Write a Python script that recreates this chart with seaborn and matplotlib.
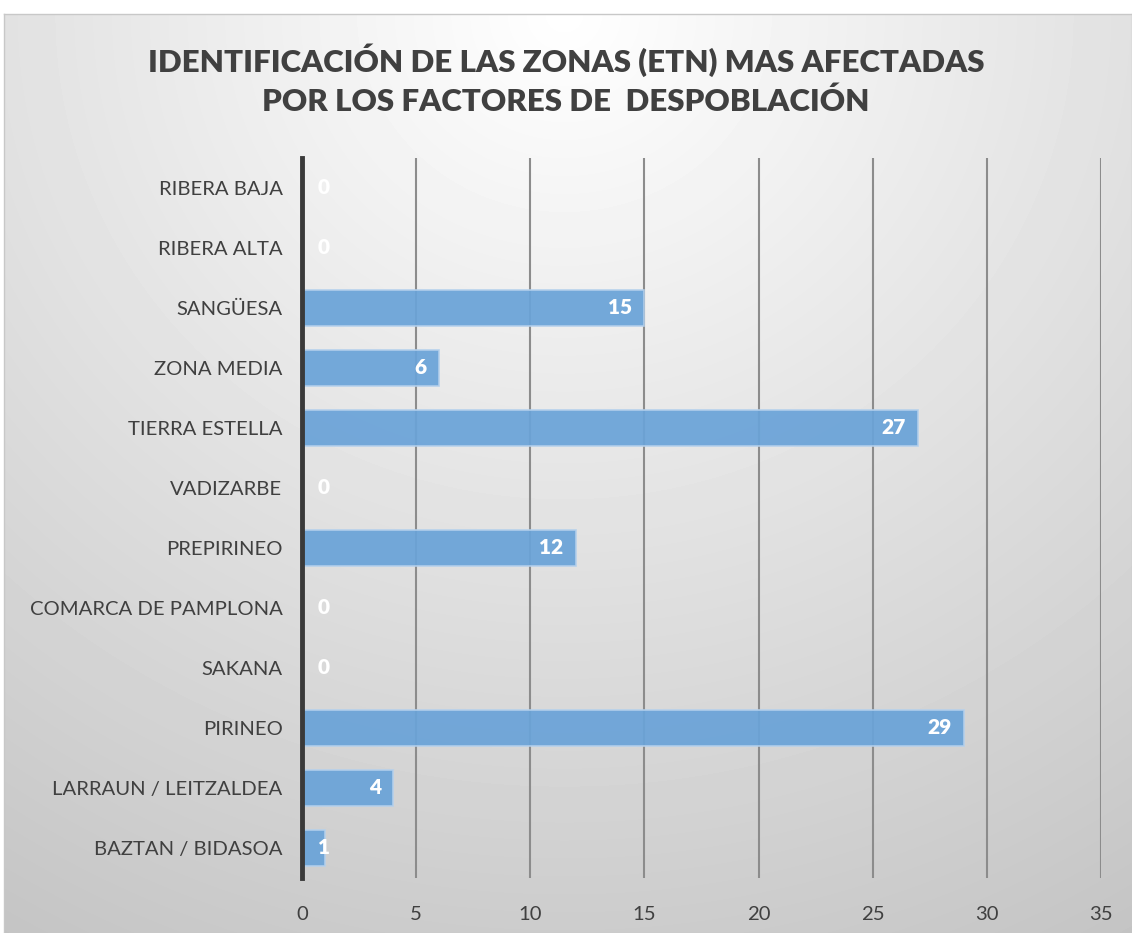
import numpy as np
import pandas as pd
import matplotlib
matplotlib.use("Agg")
import matplotlib.pyplot as plt
import seaborn as sns

zonas = ["RIBERA BAJA", "RIBERA ALTA", "SANGÜESA", "ZONA MEDIA", "TIERRA ESTELLA",
         "VADIZARBE", "PREPIRINEO", "COMARCA DE PAMPLONA", "SAKANA", "PIRINEO",
         "LARRAUN / LEITZALDEA", "BAZTAN / BIDASOA"]
valores = [0, 0, 15, 6, 27, 0, 12, 0, 0, 29, 4, 1]
xticks = [0, 5, 10, 15, 20, 25, 30, 35]
titulo = "IDENTIFICACIÓN DE LAS ZONAS (ETN) MAS AFECTADAS\nPOR LOS FACTORES DE  DESPOBLACIÓN"

sns.set_theme(style="white")
plt.rcParams["font.family"] = ["Lato", "DejaVu Sans"]

W, H = 1132, 933
fig = plt.figure(figsize=(W / 100, H / 100), dpi=100)
fig.patch.set_facecolor("white")

# fondo con degradado radial
bg = fig.add_axes([4 / W, 0, 1 - 4 / W, 1 - 14 / H], zorder=-5)
yy, xx = np.mgrid[0:919, 0:1128]
d = np.sqrt((xx - 560) ** 2 + (yy * 1.05) ** 2) / 1060
grad = np.clip(255 - 56 * d, 0, 255) / 255
bg.imshow(grad, cmap="gray", vmin=0, vmax=1, aspect="auto", interpolation="bilinear")
bg.set_xticks([])
bg.set_yticks([])
for s in bg.spines.values():
    s.set_color("#c8c8c8")
    s.set_linewidth(1)

ax = fig.add_axes([302 / W, 1 - 878 / H, (1101 - 302) / W, (878 - 158) / H])
ax.patch.set_alpha(0)
df = pd.DataFrame({"zona": zonas, "valor": valores})
sns.barplot(data=df, x="valor", y="zona", orient="h", color="#6aa3d8", alpha=0.93,
            saturation=1, width=0.6, edgecolor="#b4d0ec", linewidth=1.2, ax=ax, zorder=3)

ax.set_xlim(0, 35)
ax.set_ylim(11.5, -0.5)
ax.set_xticks(xticks)
ax.set_xlabel("")
ax.set_ylabel("")
ax.grid(axis="x", color="#8c8c8c", linewidth=1.5, zorder=0)
ax.grid(axis="y", visible=False)
for s in ["top", "right", "bottom"]:
    ax.spines[s].set_visible(False)
ax.spines["left"].set_color("#3a3a3a")
ax.spines["left"].set_linewidth(3.5)
ax.spines["left"].set_zorder(5)
ax.tick_params(axis="both", length=0, labelsize=14.6, labelcolor="#404040")
ax.tick_params(axis="y", pad=14)
ax.tick_params(axis="x", pad=20)

for i, v in enumerate(valores):
    if v <= 1:
        ax.text(0.68, i, str(v), ha="left", va="center", color="white",
                fontsize=15, fontweight="heavy", zorder=6)
    else:
        ax.text(v - 0.55, i, str(v), ha="right", va="center", color="white",
                fontsize=15, fontweight="heavy", zorder=6)

fig.text(0.5, 1 - 80 / H, titulo, ha="center", va="center", fontsize=22.5,
         fontweight="heavy", color="#404040", linespacing=1.45)

fig.savefig("out.png", dpi=100, facecolor="white")
